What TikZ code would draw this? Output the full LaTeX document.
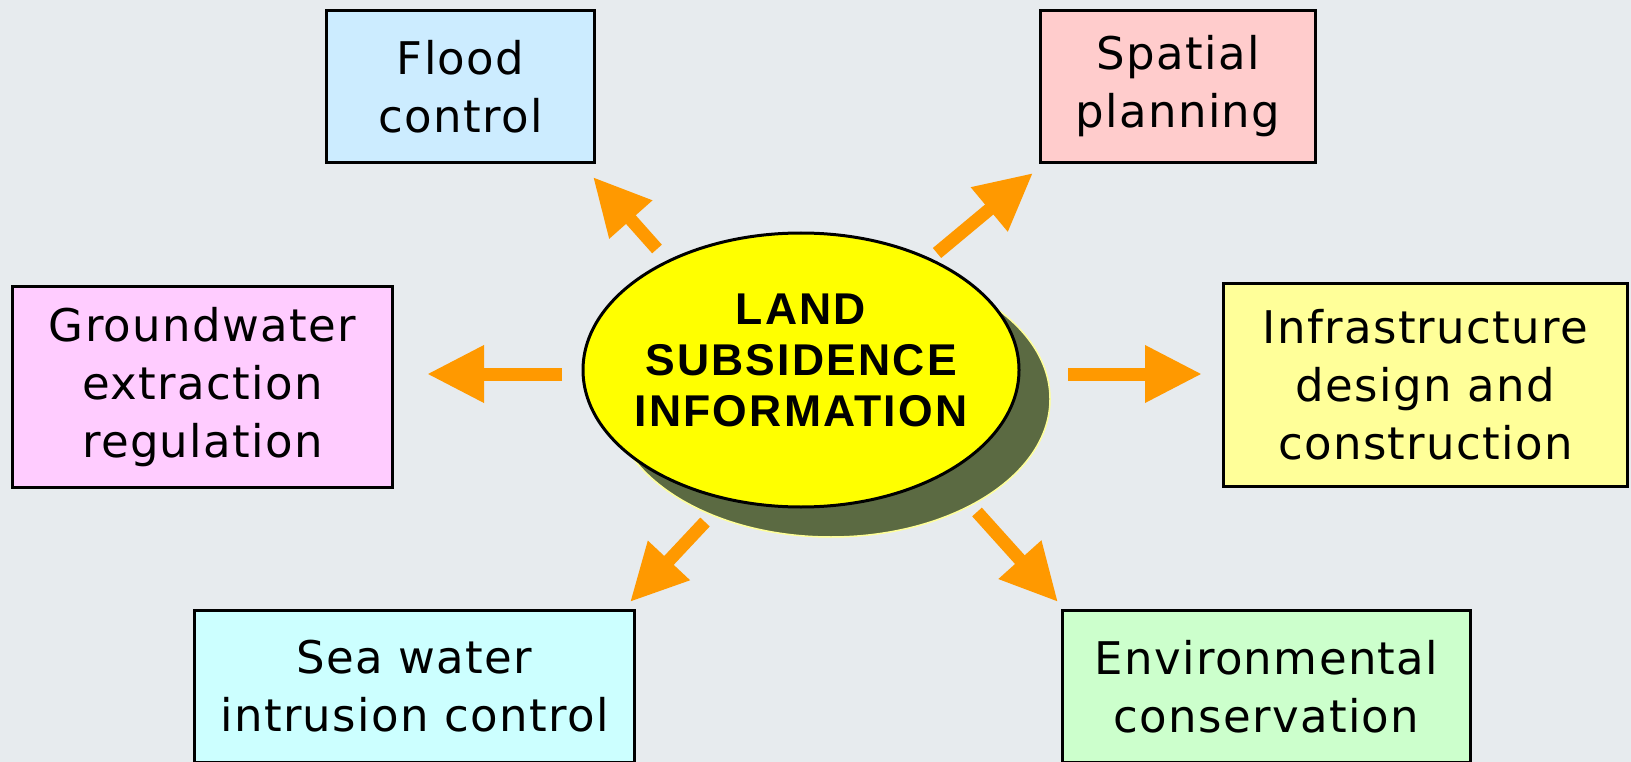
\documentclass[tikz,border=0pt]{standalone}
\usepackage{fontspec}
\setmainfont{DejaVu Sans}[LetterSpace=3]
\newfontfamily\titlefont{Liberation Sans}[LetterSpace=5]
\usetikzlibrary{arrows.meta,shapes.geometric}
\definecolor{bgc}{HTML}{E7EBEE}
\definecolor{arrowc}{HTML}{FF9900}
\definecolor{shadowc}{HTML}{5B6A42}
\definecolor{shadowedge}{HTML}{FFFF99}
\definecolor{corec}{HTML}{FFFF00}
\definecolor{floodc}{HTML}{CCECFF}
\definecolor{spatialc}{HTML}{FFCCCC}
\definecolor{groundc}{HTML}{FFCCFF}
\definecolor{infrac}{HTML}{FFFF99}
\definecolor{seac}{HTML}{CCFFFF}
\definecolor{envc}{HTML}{CCFFCC}
\begin{document}
\begin{tikzpicture}[x=1pt,y=-1pt,
  box/.style={draw=black, line width=3pt, align=center, inner sep=0pt,
    font=\fontsize{45}{58}\selectfont},
  flow/.style={draw=arrowc, line width=13pt, line cap=butt,
    -{Triangle[width=54pt,length=57pt]}}]
\clip (0,0) rectangle (1631,762);
\fill[bgc] (0,0) rectangle (1631,762);
% boxes
\node[box, fill=floodc, minimum width=268, minimum height=152] (flood) at (460.5,86.5) {Flood\\control};
\node[box, fill=spatialc, minimum width=275, minimum height=152] (spatial) at (1178,86.5) {Spatial\\planning};
\node[box, fill=groundc, minimum width=380, minimum height=201] (ground) at (202.5,387) {Groundwater\\extraction\\regulation\rule[-8pt]{0pt}{1pt}};
\node[box, fill=infrac, minimum width=404, minimum height=203] (infra) at (1425.5,385) {Infrastructure\\design and\\construction};
\node[box, fill=seac, minimum width=440, minimum height=152] (sea) at (414.5,686.5) {Sea water\\intrusion control};
\node[box, fill=envc, minimum width=408, minimum height=152] (env) at (1266.5,686.5) {Environmental\\conservation};
% central ellipse
\node[ellipse, fill=shadowc, draw=shadowedge, line width=1.5pt, inner sep=0pt,
  minimum width=438, minimum height=276] (coreshadow) at (831,399) {};
\node[ellipse, fill=corec, draw=black, line width=3pt, inner sep=0pt,
  minimum width=436, minimum height=274] (core) at (801,370) {};
\node[align=center, font=\titlefont\bfseries\fontsize{44.5}{51}\selectfont, inner sep=0pt]
  (coretext) at (801,360) {LAND\\SUBSIDENCE\\INFORMATION};
% arrow ends
\coordinate (t1) at (562,374);  \coordinate (h1) at (427,374);
\coordinate (t2) at (1068,374); \coordinate (h2) at (1202,374);
\coordinate (t3) at (657,249);  \coordinate (h3) at (593,177);
\coordinate (t4) at (937,253);  \coordinate (h4) at (1033,173);
\coordinate (t5) at (705,522);  \coordinate (h5) at (630,602);
\coordinate (t6) at (977,512);  \coordinate (h6) at (1058,602);
\draw[flow] (t1) -- (h1);
\draw[flow] (t2) -- (h2);
\draw[flow] (t3) -- (h3);
\draw[flow] (t4) -- (h4);
\draw[flow] (t5) -- (h5);
\draw[flow] (t6) -- (h6);
\end{tikzpicture}
\end{document}
